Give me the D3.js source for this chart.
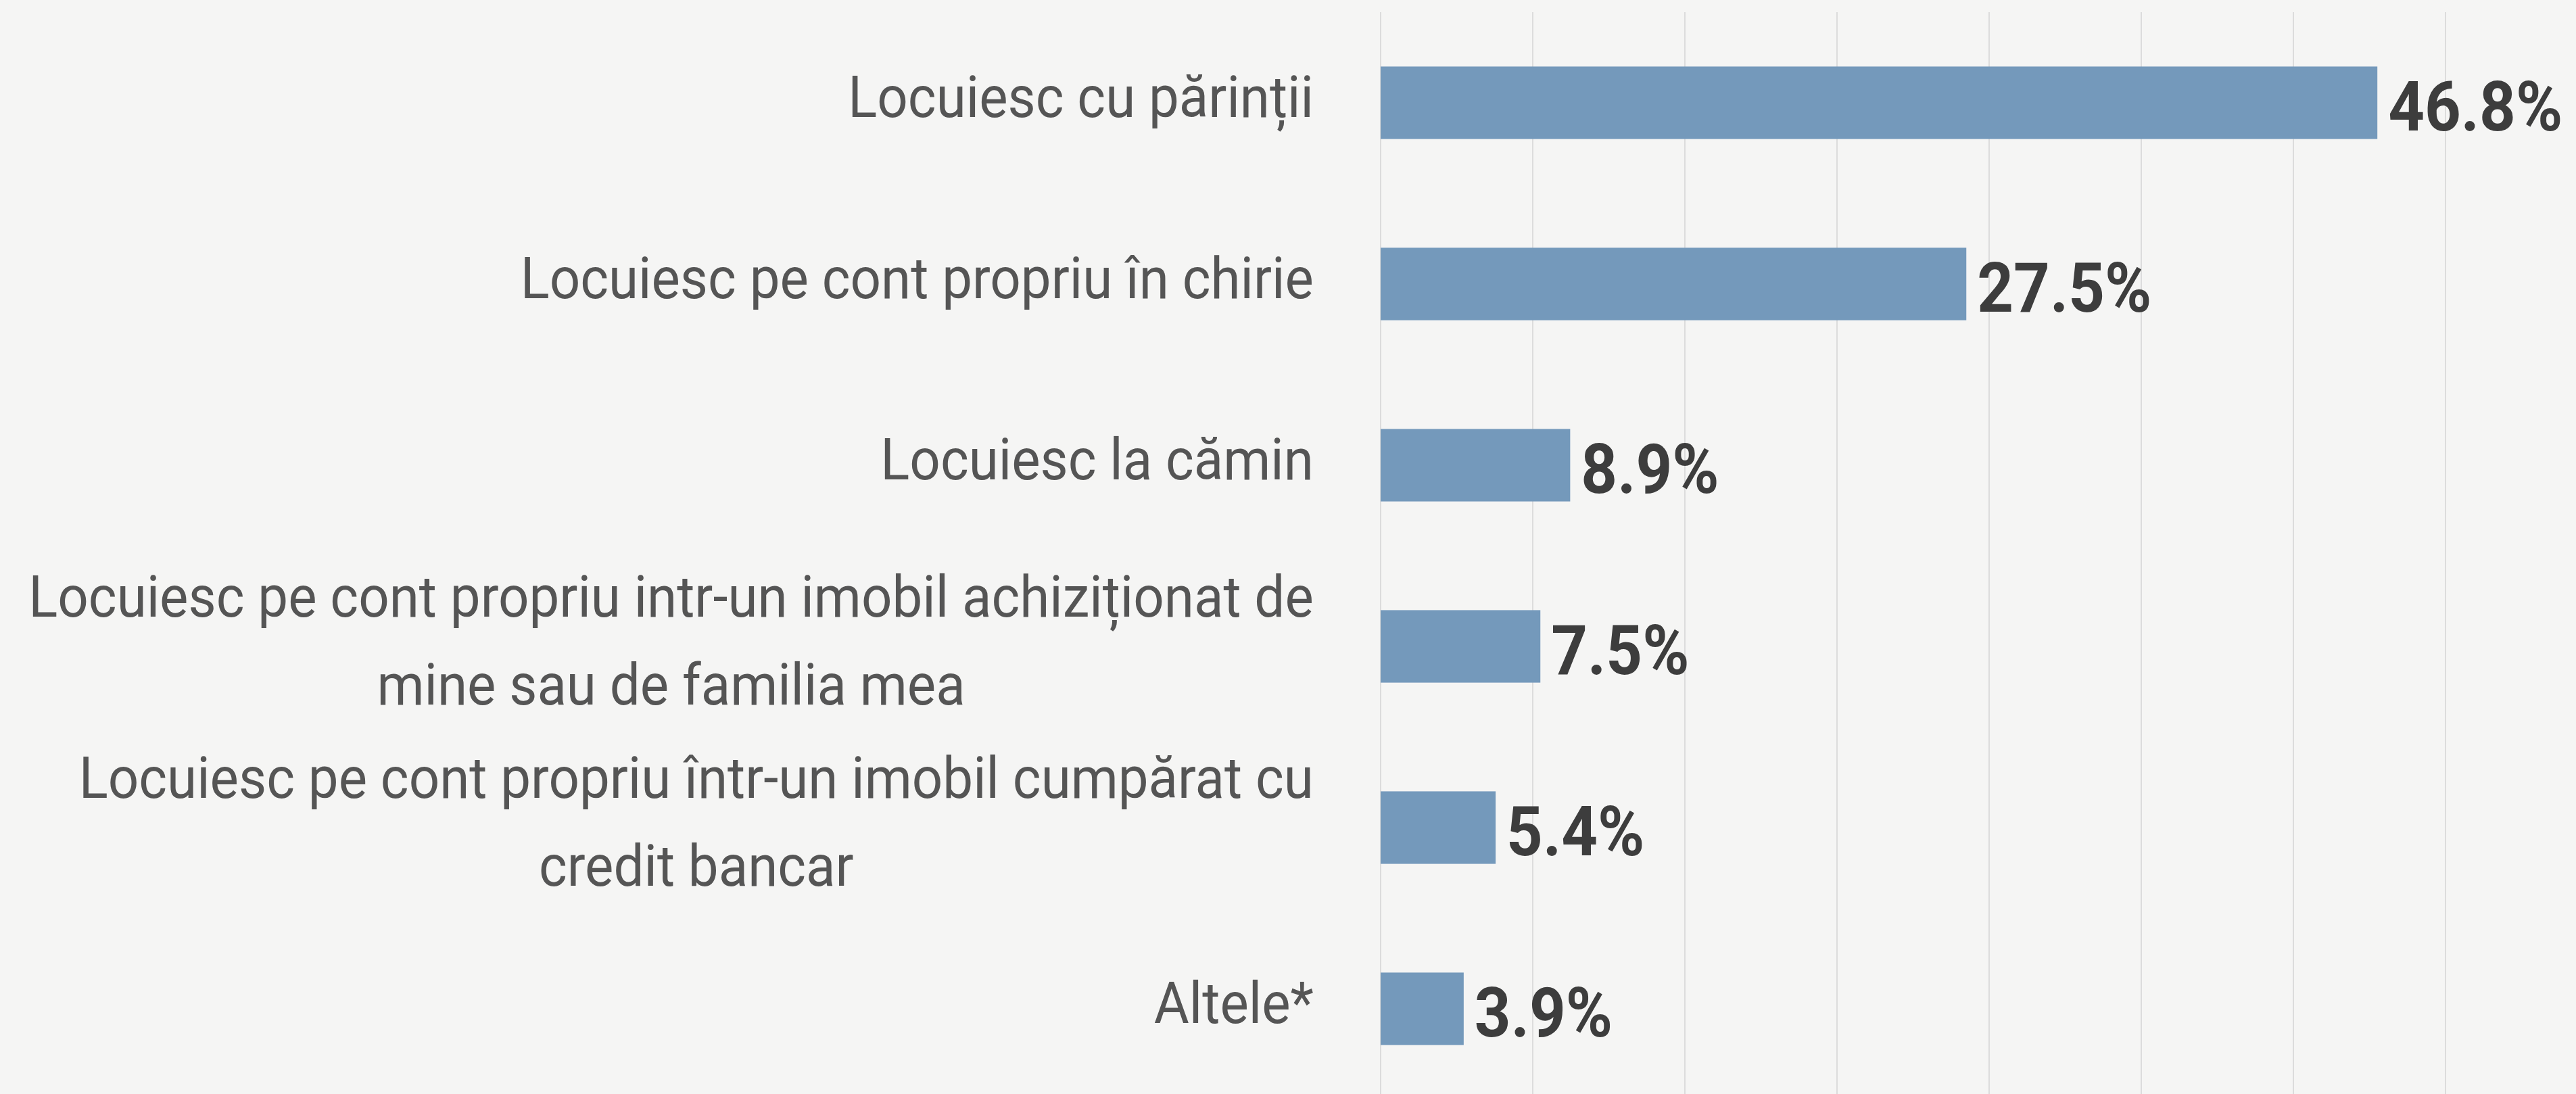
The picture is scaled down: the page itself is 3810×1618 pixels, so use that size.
<!DOCTYPE html>
<html>
<head>
<meta charset="utf-8">
<script src="https://cdn.jsdelivr.net/npm/d3@7"></script>
<style>
  html, body { margin: 0; padding: 0; background: #f5f5f4; }
  svg { display: block; }
</style>
</head>
<body>
<div class="chart"></div>
<script>
// DATA ------
const categories = [
  "Locuiesc cu părinții",
  "Locuiesc pe cont propriu în chirie",
  "Locuiesc la cămin",
  "Locuiesc pe cont propriu intr-un imobil achiziționat de\nmine sau de familia mea",
  "Locuiesc pe cont propriu într-un imobil cumpărat cu\ncredit bancar",
  "Altele*"
];
const values = [46.8, 27.5, 8.9, 7.5, 5.4, 3.9];
const xMax = 50;
const gridCount = 7;

// CHART INIT ------
const width = 3810;
const height = 1618;
const margin = ({top: 18, left: 2042, right: 193});
// narrow the glyphs a bit, the original font is condensed
const labelSqueeze = 0.94;
const valueSqueeze = 0.92;

const svg = d3.select('.chart')
  .append('svg')
  .attr("width", width)
  .attr("height", height)

svg.append("rect")
  .attr("width", width)
  .attr("height", height)
  .attr("fill", "#f5f5f4")

const xScale = d3.scaleLinear()
  .domain([0, xMax])
  .range([margin.left, width - margin.right]);

const yScale = d3.scaleBand()
  .domain(categories)
  .range([margin.top, 1626])
  .paddingInner(0.6)
  .paddingOuter(0.3);

const data = categories.map((c, i) => ({label: c, value: values[i]}));

// grid lines
const gridTicks = d3.range(gridCount + 1).map(i => xMax * i / gridCount);
svg.append("g")
  .attr("class", "grid")
  .selectAll("line")
  .data(gridTicks)
  .join("line")
  .attr("x1", d => xScale(d))
  .attr("x2", d => xScale(d))
  .attr("y1", margin.top)
  .attr("y2", height)
  .attr("stroke", "#dcdcdc")
  .attr("stroke-width", 2)

// bars
svg.selectAll(".bar")
  .data(data)
  .join("rect")
  .attr("class", "bar")
  .attr("x", xScale(0))
  .attr("y", d => yScale(d.label))
  .attr("width", d => xScale(d.value) - xScale(0))
  .attr("height", yScale.bandwidth())
  .attr("fill", "#7499bb")

// value labels
svg.selectAll(".value")
  .data(data)
  .join("text")
  .attr("class", "value")
  .attr("transform", d => `translate(${xScale(d.value) + 16},${yScale(d.label) + yScale.bandwidth() / 2 + 41}) scale(${valueSqueeze},1)`)
  .attr("font-family", "Roboto, sans-serif")
  .attr("font-weight", 700)
  .attr("font-size", 102)
  .attr("fill", "#3d3d3d")
  .text(d => d.value.toFixed(1) + "%")

// category labels, multi-line ones centred on their widest line
const labelRight = 1943;
const lineGap = 130;
const labels = svg.selectAll(".label")
  .data(data)
  .join("g")
  .attr("class", "label")

labels.each(function(d) {
  const g = d3.select(this);
  const lines = d.label.split("\n");
  const cy = yScale(d.label) + yScale.bandwidth() / 2;
  const texts = lines.map((line, i) => g.append("text")
    .attr("x", 0)
    .attr("y", cy + 21 + (i - (lines.length - 1) / 2) * lineGap)
    .attr("font-family", "Roboto, sans-serif")
    .attr("font-size", 85)
    .attr("fill", "#555555")
    .attr("text-anchor", "middle")
    .text(line));
  const maxW = d3.max(texts, t => t.node().getComputedTextLength()) * labelSqueeze;
  const cx = labelRight - maxW / 2;
  g.attr("transform", `translate(${cx},0) scale(${labelSqueeze},1)`);
});
</script>
</body>
</html>
